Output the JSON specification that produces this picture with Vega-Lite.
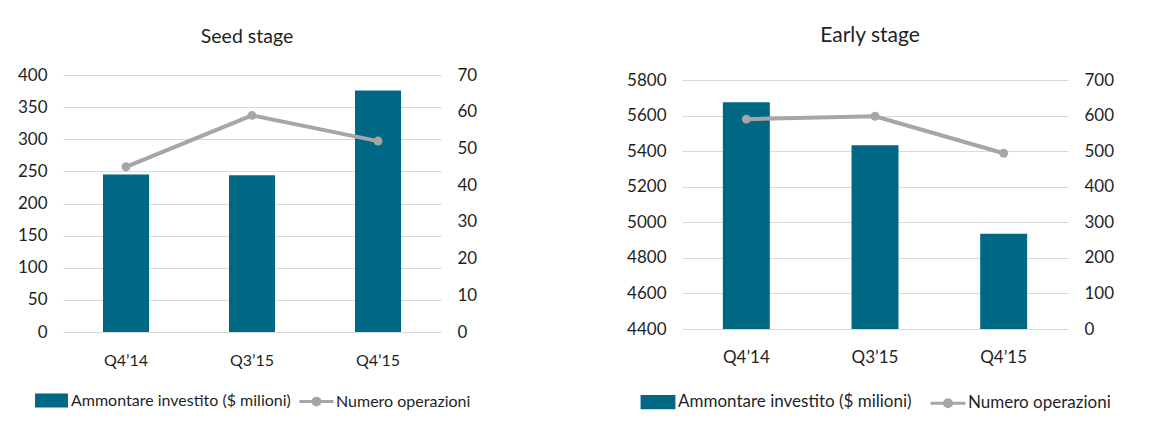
{
  "$schema": "https://vega.github.io/schema/vega-lite/v6.json",
  "background": "white",
  "padding": {"left": 17, "top": 25, "right": 0, "bottom": 0},
  "config": {
    "font": "Lato",
    "view": {"stroke": null},
    "axis": {"labelFont": "Lato", "labelFontSize": 17, "labelColor": "#1f1f1f", "domain": false, "ticks": false, "title": null, "labelPadding": 16, "gridColor": "#d9d9d9", "gridWidth": 1},
    "title": {"font": "Lato", "fontSize": 19.5, "fontWeight": "normal", "color": "#1f1f1f"},
    "legend": {"layout": {"bottom": {"anchor": "middle"}}}
  },
  "datasets": {
    "seed": [
      {"trimestre": "Q4’14", "ammontare": 245, "operazioni": 45},
      {"trimestre": "Q3’15", "ammontare": 244, "operazioni": 59},
      {"trimestre": "Q4’15", "ammontare": 376, "operazioni": 52}
    ],
    "early": [
      {"trimestre": "Q4’14", "ammontare": 5675, "operazioni": 590},
      {"trimestre": "Q3’15", "ammontare": 5433, "operazioni": 598},
      {"trimestre": "Q4’15", "ammontare": 4936, "operazioni": 494}
    ]
  },
  "spacing": 149,
  "resolve": {"scale": {"color": "independent"}, "legend": {"color": "independent"}},
  "hconcat": [
    {
      "width": 378,
      "height": 257,
      "title": {"text": "Seed stage", "offset": 19, "dx": -5},
      "data": {"name": "seed"},
      "encoding": {
        "x": {"field": "trimestre", "type": "nominal", "sort": null, "scale": {"paddingInner": 0.635, "paddingOuter": 0.3175}, "axis": {"labelAngle": 0, "grid": false, "labelPadding": 20, "labelFontSize": 16}}
      },
      "layer": [
        {
          "mark": {"type": "bar", "color": "#006884"},
          "encoding": {
            "y": {"field": "ammontare", "type": "quantitative", "scale": {"domain": [0, 400]}, "axis": {"values": [0, 50, 100, 150, 200, 250, 300, 350, 400], "grid": true}},
            "color": {
              "datum": "Ammontare investito ($ milioni)",
              "scale": {"domain": ["Ammontare investito ($ milioni)", "Numero operazioni"], "range": ["#006884", "#a6a6a6"]},
              "legend": {
                "title": null, "orient": "bottom", "direction": "horizontal", "offset": 14,
                "labelFont": "Lato", "labelFontSize": 16, "labelColor": "#1f1f1f", "labelOffset": 1, "columnPadding": 2, "labelLimit": 400,
                "symbolSize": 1156, "symbolStrokeWidth": 3,
                "encode": {"symbols": {"update": {
                  "shape": {"signal": "datum.value === 'Numero operazioni' ? 'M-1,0H1M-0.2,0A0.2,0.2,0,1,1,0.2,0A0.2,0.2,0,1,1,-0.2,0Z' : 'M-0.88,-0.32H0.88V0.32H-0.88Z'"},
                  "fill": {"signal": "datum.value === 'Numero operazioni' ? '#a6a6a6' : '#006884'"},
                  "stroke": {"signal": "datum.value === 'Numero operazioni' ? '#a6a6a6' : '#006884'"},
                  "size": {"value": 1156},
                  "strokeWidth": {"value": 3},
                  "opacity": {"value": 1}
                }}}
              }
            }
          }
        },
        {
          "mark": {"type": "line", "strokeWidth": 4, "point": {"size": 80, "filled": true, "opacity": 1}},
          "encoding": {
            "y": {"field": "operazioni", "type": "quantitative", "scale": {"domain": [0, 70]}, "axis": {"orient": "right", "grid": false, "values": [0, 10, 20, 30, 40, 50, 60, 70]}},
            "color": {"datum": "Numero operazioni"}
          }
        }
      ],
      "resolve": {"scale": {"y": "independent"}}
    },
    {
      "width": 386,
      "height": 254,
      "title": {"text": "Early stage", "offset": 25, "dx": -5, "fontSize": 21},
      "data": {"name": "early"},
      "encoding": {
        "x": {"field": "trimestre", "type": "nominal", "sort": null, "scale": {"paddingInner": 0.635, "paddingOuter": 0.3175}, "axis": {"labelAngle": 0, "grid": false, "labelPadding": 20, "labelFontSize": 17}}
      },
      "layer": [
        {
          "mark": {"type": "bar", "color": "#006884"},
          "encoding": {
            "y": {"field": "ammontare", "type": "quantitative", "scale": {"domain": [4400, 5800], "zero": false, "range": [254, 5]}, "axis": {"values": [4400, 4600, 4800, 5000, 5200, 5400, 5600, 5800], "grid": true, "format": "d"}},
            "y2": {"datum": 4400},
            "color": {
              "datum": "Ammontare investito ($ milioni)",
              "scale": {"domain": ["Ammontare investito ($ milioni)", "Numero operazioni"], "range": ["#006884", "#a6a6a6"]},
              "legend": {
                "title": null, "orient": "bottom", "direction": "horizontal", "offset": 18,
                "labelFont": "Lato", "labelFontSize": 17, "labelColor": "#1f1f1f", "labelOffset": 1, "columnPadding": 12, "labelLimit": 400,
                "symbolSize": 1225, "symbolStrokeWidth": 3,
                "encode": {"symbols": {"update": {
                  "shape": {"signal": "datum.value === 'Numero operazioni' ? 'M-1,0H1M-0.2,0A0.2,0.2,0,1,1,0.2,0A0.2,0.2,0,1,1,-0.2,0Z' : 'M-0.91,-0.32H0.91V0.32H-0.91Z'"},
                  "fill": {"signal": "datum.value === 'Numero operazioni' ? '#a6a6a6' : '#006884'"},
                  "stroke": {"signal": "datum.value === 'Numero operazioni' ? '#a6a6a6' : '#006884'"},
                  "size": {"value": 1225},
                  "strokeWidth": {"value": 3},
                  "opacity": {"value": 1}
                }}}
              }
            }
          }
        },
        {
          "mark": {"type": "line", "strokeWidth": 4, "point": {"size": 80, "filled": true, "opacity": 1}},
          "encoding": {
            "y": {"field": "operazioni", "type": "quantitative", "scale": {"domain": [0, 700], "range": [254, 5]}, "axis": {"orient": "right", "grid": false, "values": [0, 100, 200, 300, 400, 500, 600, 700]}},
            "color": {"datum": "Numero operazioni"}
          }
        }
      ],
      "resolve": {"scale": {"y": "independent"}}
    }
  ]
}
